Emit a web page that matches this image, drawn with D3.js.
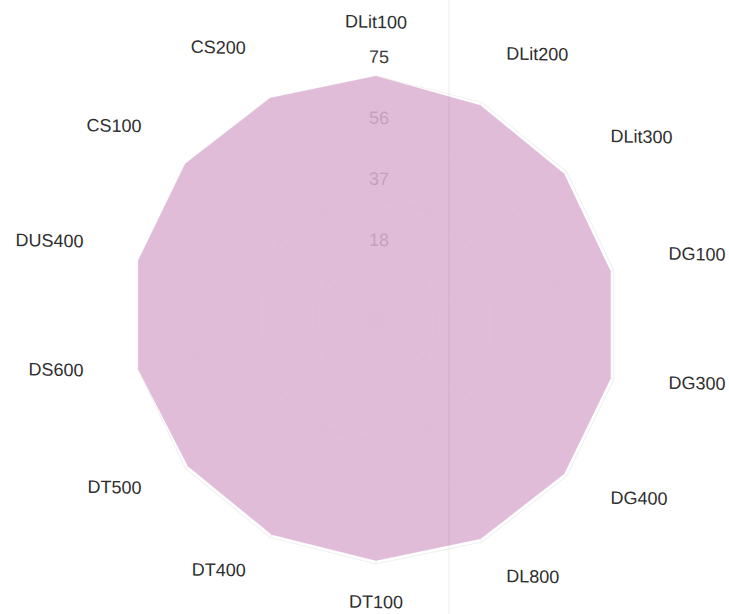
<!DOCTYPE html>
<html>
<head>
<meta charset="utf-8">
<script src="https://d3js.org/d3.v7.min.js"></script>
<style>
  body { margin: 0; background: #fff; }
  text { font-family: "Liberation Sans", Arial, sans-serif; }
</style>
</head>
<body>
<div id="radar"></div>
<script>
// axis names, clockwise from the top
const axes = ["DLit100", "DLit200", "DLit300", "DG100", "DG300", "DG400", "DL800",
              "DT100", "DT400", "DT500", "DS600", "DUS400", "CS100", "CS200"];
const values = [75, 74, 74, 74, 74, 74, 74, 74, 74, 74, 75, 75, 75, 75];
const maxValue = 75;
const levels = 4;

const width = 729, height = 614;
const cx = 376, cy = 320, radius = 244;

const svg = d3.select("#radar").append("svg")
    .attr("width", width)
    .attr("height", height);

// slight skew like the scanned page
const g = svg.append("g")
    .attr("transform", `translate(${cx},${cy}) skewY(1.2)`);

const r = d3.scaleLinear().domain([0, maxValue]).range([0, radius]);
const angle = d3.scaleLinear().domain([0, axes.length]).range([0, 2 * Math.PI]);

const ringVals = d3.range(1, levels + 1).map(j => maxValue * j / levels);

// grid rings
g.selectAll(".ring")
  .data(ringVals)
  .join("polygon")
    .attr("class", "ring")
    .attr("points", v => axes.map((a, i) =>
        [r(v) * Math.sin(angle(i)), -r(v) * Math.cos(angle(i))].join(",")).join(" "))
    .attr("fill", "none")
    .attr("stroke", "#f0f0f0")
    .attr("stroke-width", 1);

// spokes
g.selectAll(".spoke")
  .data(axes)
  .join("line")
    .attr("x1", 0).attr("y1", 0)
    .attr("x2", (d, i) => r(maxValue) * Math.sin(angle(i)))
    .attr("y2", (d, i) => -r(maxValue) * Math.cos(angle(i)))
    .attr("stroke", "#f2f2f2");

// level labels (sit under the translucent area)
g.selectAll(".lvl")
  .data(ringVals)
  .join("text")
    .attr("x", 3)
    .attr("y", v => -r(v) - 19)
    .attr("text-anchor", "middle")
    .attr("dominant-baseline", "central")
    .style("font-size", "18px")
    .attr("fill", (v, i) => i === levels - 1 ? "#3a3a3a" : "#666")
    .text(v => Math.floor(v));

// the area
const radial = d3.lineRadial()
    .angle((d, i) => angle(i))
    .radius(d => r(d))
    .curve(d3.curveLinearClosed);

g.append("path")
    .datum(values)
    .attr("d", radial)
    .attr("fill", "#d9adcf")
    .attr("fill-opacity", 0.82)
    .attr("stroke", "none");

// axis labels
g.selectAll(".axisLabel")
  .data(axes)
  .join("text")
    .attr("class", "axisLabel")
    .attr("x", (d, i) => (radius + 56) * Math.sin(angle(i)))
    .attr("y", (d, i) => -(radius + 46) * Math.cos(angle(i)) - 8)
    .attr("text-anchor", (d, i) => {
        const s = Math.sin(angle(i));
        return Math.abs(s) < 0.1 ? "middle" : (s > 0 ? "start" : "end");
    })
    .attr("dominant-baseline", "central")
    .style("font-size", "18px")
    .attr("fill", "#2e2e2e")
    .text(d => d);

// faint fold line from the scan
svg.append("line")
    .attr("x1", 449).attr("x2", 449)
    .attr("y1", 0).attr("y2", height)
    .attr("stroke", "#000")
    .attr("stroke-opacity", 0.035)
    .attr("stroke-width", 2);
</script>
</body>
</html>
